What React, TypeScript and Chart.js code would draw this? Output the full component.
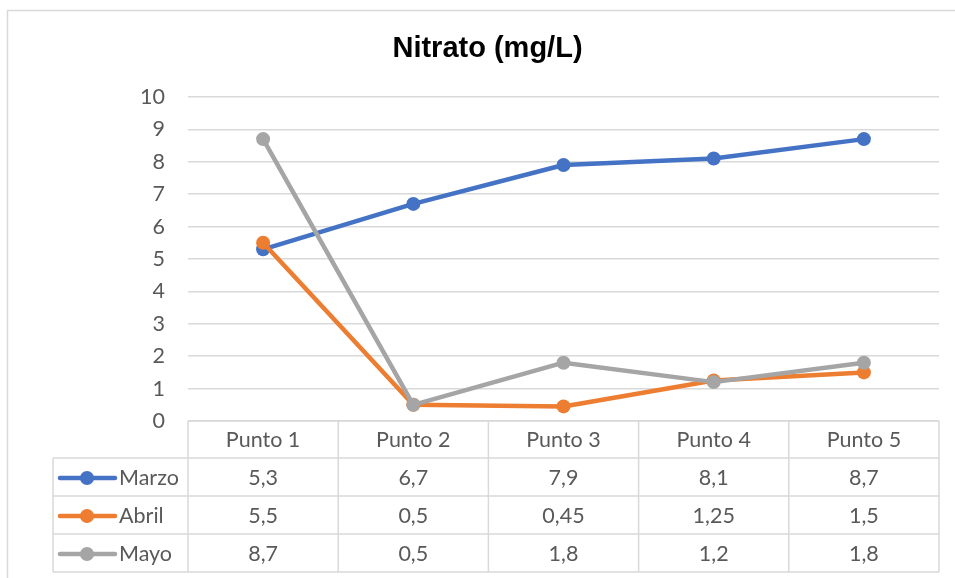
import React, { useEffect, useRef } from "react";
import { Chart, registerables } from "chart.js";

Chart.register(...registerables);

const title = "Nitrato (mg/L)";
const categories = ["Punto 1", "Punto 2", "Punto 3", "Punto 4", "Punto 5"];
const seriesNames = ["Marzo", "Abril", "Mayo"];
const marzo = [5.3, 6.7, 7.9, 8.1, 8.7];
const abril = [5.5, 0.5, 0.45, 1.25, 1.5];
const mayo = [8.7, 0.5, 1.8, 1.2, 1.8];
const seriesColors = ["#4472C4", "#ED7D31", "#A5A5A5"];
const yMin = 0;
const yMax = 10;
const yStep = 1;

const FONT = "Lato, 'Open Sans', sans-serif";
const TITLE_FONT = "'Liberation Sans', Arial, sans-serif";
const TEXT = "#595959";
const GRID = "#D9D9D9";

const fmt = (v: number) => String(v).replace(".", ",");

const frameAndTable = {
  id: "frameAndTable",
  beforeDraw(chart: any) {
    const ctx = chart.ctx;
    ctx.save();
    ctx.fillStyle = "#ffffff";
    ctx.fillRect(0, 0, chart.width, chart.height);
    ctx.strokeStyle = GRID;
    ctx.lineWidth = 1.5;
    ctx.beginPath();
    ctx.moveTo(7.5, chart.height + 2);
    ctx.lineTo(7.5, 10.5);
    ctx.lineTo(chart.width + 2, 10.5);
    ctx.stroke();
    ctx.restore();
  },
  afterDraw(chart: any) {
    const ctx = chart.ctx;
    const area = chart.chartArea;
    const xs = chart.scales.x;
    const n = categories.length;
    const colW = (area.right - area.left) / n;
    const top = area.bottom;
    const headerH = 37;
    const rowH = 38;
    const legendLeft = 53;
    const bottom = top + headerH + rowH * seriesNames.length;

    ctx.save();
    // title
    ctx.fillStyle = "#000000";
    ctx.font = `bold 29px ${TITLE_FONT}`;
    ctx.textAlign = "center";
    ctx.textBaseline = "middle";
    ctx.fillText(title, 487.5, 49);

    // table grid
    ctx.strokeStyle = GRID;
    ctx.lineWidth = 1.5;
    ctx.beginPath();
    ctx.moveTo(area.left, top);
    ctx.lineTo(area.right, top);
    for (let r = 0; r <= seriesNames.length; r++) {
      const y = top + headerH + r * rowH;
      ctx.moveTo(legendLeft, y);
      ctx.lineTo(area.right, y);
    }
    ctx.moveTo(legendLeft, top + headerH);
    ctx.lineTo(legendLeft, bottom);
    for (let c = 0; c <= n; c++) {
      const x = area.left + c * colW;
      ctx.moveTo(x, top);
      ctx.lineTo(x, bottom);
    }
    ctx.stroke();

    // header
    ctx.fillStyle = TEXT;
    ctx.font = `21.5px ${FONT}`;
    ctx.textAlign = "center";
    ctx.textBaseline = "middle";
    categories.forEach((c, i) => {
      ctx.fillText(c, xs.getPixelForValue(i), top + headerH / 2 + 1);
    });

    // rows
    chart.data.datasets.forEach((ds: any, r: number) => {
      const cy = top + headerH + r * rowH + rowH / 2 + 1;
      const color = ds.borderColor;
      ctx.strokeStyle = color;
      ctx.lineWidth = 4.5;
      ctx.lineCap = "round";
      ctx.beginPath();
      ctx.moveTo(60, cy);
      ctx.lineTo(115, cy);
      ctx.stroke();
      ctx.fillStyle = color;
      ctx.beginPath();
      ctx.arc(87, cy, 7, 0, Math.PI * 2);
      ctx.fill();
      ctx.fillStyle = TEXT;
      ctx.textAlign = "left";
      ctx.fillText(ds.label, 119, cy);
      ctx.textAlign = "center";
      ds.data.forEach((v: number, i: number) => {
        ctx.fillText(fmt(v), xs.getPixelForValue(i), cy);
      });
    });
    ctx.restore();
  },
};

export default function App() {
  const ref = useRef<HTMLCanvasElement>(null);
  useEffect(() => {
    if (!ref.current) return;
    const all = [marzo, abril, mayo];
    const chart = new Chart(ref.current, {
      type: "line",
      data: {
        labels: categories,
        datasets: all.map((d, i) => ({
          label: seriesNames[i],
          data: d,
          borderColor: seriesColors[i],
          backgroundColor: seriesColors[i],
          borderWidth: 4.5,
          pointRadius: 7,
          pointBorderWidth: 0,
          pointBackgroundColor: seriesColors[i],
          borderCapStyle: "round" as const,
          borderJoinStyle: "round" as const,
          tension: 0,
          order: 3 - i,
        })),
      },
      options: {
        responsive: false,
        animation: false,
        layout: { padding: { left: 0, right: 16, top: 97, bottom: 157 } },
        plugins: {
          legend: { display: false },
          tooltip: { enabled: false },
          title: { display: false },
        },
        scales: {
          x: {
            type: "category",
            display: false,
            offset: true,
          },
          y: {
            min: yMin,
            max: yMax,
            afterFit(scale: any) {
              scale.width = 188;
            },
            border: { display: false },
            grid: { color: GRID, lineWidth: 1.5, drawTicks: false },
            ticks: {
              stepSize: yStep,
              padding: 23,
              color: TEXT,
              font: { family: FONT, size: 21.5 },
            },
          },
        },
      },
      plugins: [frameAndTable],
    });
    return () => chart.destroy();
  }, []);
  return (
    <div style={{ position: "absolute", left: 0, top: 0, width: 955, height: 578 }}>
      <canvas ref={ref} width={955} height={578} style={{ display: "block" }} />
    </div>
  );
}
